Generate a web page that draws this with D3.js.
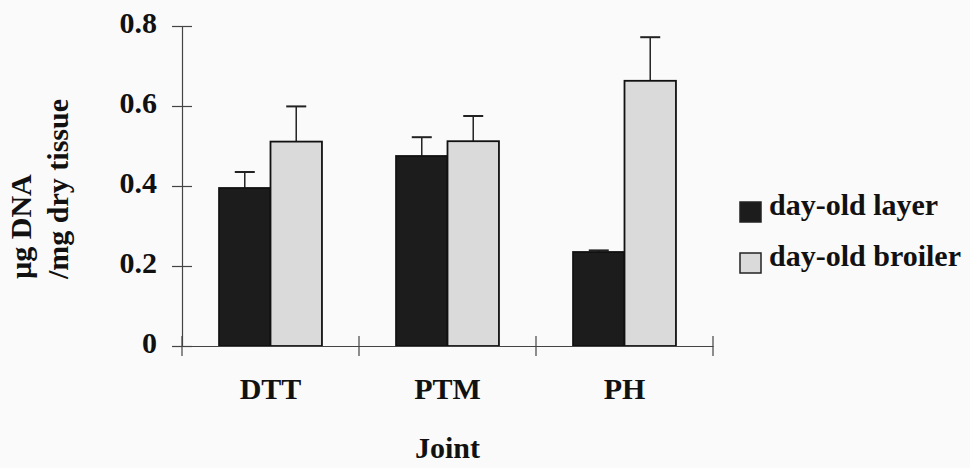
<!DOCTYPE html>
<html>
<head>
<meta charset="utf-8">
<script src="https://cdn.jsdelivr.net/npm/d3@7"></script>
<style>
  html, body { margin: 0; padding: 0; background: #fafafa; }
  svg { display: block; }
  text { font-family: "Liberation Serif", "DejaVu Serif", "Noto Serif", "Tinos", "Nimbus Roman", "FreeSerif", "Times New Roman", Times, serif; font-weight: bold; fill: #111; }
</style>
</head>
<body>
<svg id="chart" width="970" height="468"></svg>
<script>
const categories = ["DTT", "PTM", "PH"];
const seriesNames = ["day-old layer", "day-old broiler"];
const layerValues = [0.395, 0.475, 0.235];
const layerErrors = [0.040, 0.047, 0.004];
const broilerValues = [0.511, 0.512, 0.663];
const broilerErrors = [0.088, 0.063, 0.109];
const yTickValues = [0, 0.2, 0.4, 0.6, 0.8];
const yTickLabels = ["0", "0.2", "0.4", "0.6", "0.8"];

const colors = { "day-old layer": "#1c1c1c", "day-old broiler": "#dadada" };
const FONT = '"Liberation Serif", "DejaVu Serif", "Noto Serif", "Tinos", "Nimbus Roman", "FreeSerif", "Times New Roman", Times, serif';

const svg = d3.select("#chart");
svg.append("rect").attr("width", 970).attr("height", 468).attr("fill", "#fafafa");

const y = d3.scaleLinear().domain([0, 0.8]).range([346, 26]);
const x0 = d3.scaleBand().domain(categories).range([182, 713]).padding(0);
const x1 = d3.scaleBand().domain(seriesNames).range([0, x0.bandwidth()])
  .paddingInner(0).paddingOuter(0.72);

const data = categories.map((c, i) => ({
  cat: c,
  vals: [
    { s: seriesNames[0], v: layerValues[i], e: layerErrors[i] },
    { s: seriesNames[1], v: broilerValues[i], e: broilerErrors[i] }
  ]
}));

// Y axis
const yAxis = d3.axisLeft(y).tickValues(yTickValues)
  .tickFormat((d, i) => yTickLabels[i]).tickSizeOuter(0);
const gy = svg.append("g").attr("transform", "translate(182,0)").call(yAxis)
  .attr("font-family", null).attr("font-size", null);
gy.select(".domain").attr("stroke", "#444").attr("stroke-width", 1.2);
gy.selectAll(".tick line").attr("x1", -10).attr("x2", 10).attr("stroke", "#444").attr("stroke-width", 1.2);
gy.selectAll(".tick text")
  .attr("x", -25).attr("dy", "0.2em")
  .style("font-family", FONT)
  .style("font-weight", "bold").style("font-size", "30px").attr("fill", "#111");

// Bars
const groups = svg.append("g").selectAll("g").data(data).join("g")
  .attr("transform", d => `translate(${x0(d.cat)},0)`);

groups.selectAll("line.err").data(d => d.vals).join("line")
  .attr("class", "err")
  .attr("x1", d => x1(d.s) + x1.bandwidth() / 2)
  .attr("x2", d => x1(d.s) + x1.bandwidth() / 2)
  .attr("y1", d => y(d.v)).attr("y2", d => y(d.v + d.e))
  .attr("stroke", "#222").attr("stroke-width", 1.5);
groups.selectAll("line.cap").data(d => d.vals).join("line")
  .attr("class", "cap")
  .attr("x1", d => x1(d.s) + x1.bandwidth() / 2 - 10)
  .attr("x2", d => x1(d.s) + x1.bandwidth() / 2 + 10)
  .attr("y1", d => y(d.v + d.e)).attr("y2", d => y(d.v + d.e))
  .attr("stroke", "#222").attr("stroke-width", 2);

groups.selectAll("rect").data(d => d.vals).join("rect")
  .attr("x", d => x1(d.s))
  .attr("width", x1.bandwidth())
  .attr("y", d => y(d.v))
  .attr("height", d => y(0) - y(d.v))
  .attr("fill", d => colors[d.s])
  .attr("stroke", "#111").attr("stroke-width", 1.8);

// X axis
const xAxis = d3.axisBottom(x0).tickSize(0).tickSizeOuter(0);
const gx = svg.append("g").attr("transform", "translate(0,346)").call(xAxis)
  .attr("font-family", null).attr("font-size", null);
gx.select(".domain").attr("stroke", "#444").attr("stroke-width", 1.2);
gx.selectAll(".tick text")
  .attr("y", 53).attr("dy", 0)
  .style("font-family", FONT)
  .style("font-weight", "bold").style("font-size", "30px").attr("fill", "#111");
const boundaries = categories.map(c => x0(c)).concat([x0(categories[categories.length - 1]) + x0.bandwidth()]);
gx.selectAll("line.bt").data(boundaries).join("line")
  .attr("class", "bt")
  .attr("x1", d => d).attr("x2", d => d)
  .attr("y1", -10).attr("y2", 10)
  .attr("stroke", "#444").attr("stroke-width", 1.2);

// Axis titles
svg.append("text").attr("x", (182 + 713) / 2).attr("y", 458)
  .attr("text-anchor", "middle").style("font-family", FONT).style("font-size", "30px").text("Joint");

const yt = svg.append("text").attr("transform", "translate(0,279) rotate(-90)")
  .style("font-family", FONT).style("font-size", "30px").attr("text-anchor", "start");
yt.append("tspan").attr("x", 0).attr("y", 31).text("\u00b5g DNA");
yt.append("tspan").attr("x", 0).attr("y", 68).text("/mg dry tissue");

// Legend
const legend = svg.append("g");
const legendRows = [
  { s: seriesNames[0], sq: 202, tb: 215 },
  { s: seriesNames[1], sq: 253, tb: 266 }
];
legendRows.forEach(r => {
  legend.append("rect").attr("x", 740).attr("y", r.sq).attr("width", 21).attr("height", 20)
    .attr("fill", colors[r.s]).attr("stroke", "#222").attr("stroke-width", 1.5);
  legend.append("text").attr("x", 769).attr("y", r.tb).style("font-family", FONT).style("font-size", "30px").text(r.s);
});
</script>
</body>
</html>
